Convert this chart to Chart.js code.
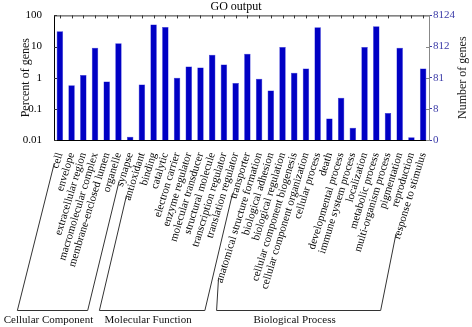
<!DOCTYPE html>
<html>
<head>
<meta charset="utf-8">
<script src="https://cdn.jsdelivr.net/npm/chart.js@4/dist/chart.umd.min.js"></script>
<style>
  html, body { margin: 0; padding: 0; background: #fff; }
  #wrap { width: 472px; height: 327px; }
</style>
</head>
<body>
<div id="wrap"><canvas id="chart"></canvas></div>
<script>
const categories = [
  "cell", "envelope", "extracellular region", "macromolecular complex",
  "membrane-enclosed lumen", "organelle", "synapse",
  "antioxidant", "binding", "catalytic", "electron carrier", "enzyme regulator",
  "molecular transducer", "structural molecule", "transcription regulator",
  "translation regulator", "transporter",
  "anatomical structure formation", "biological adhesion", "biological regulation",
  "cellular component biogenesis", "cellular component organization",
  "cellular process", "death", "developmental process", "immune system process",
  "localization", "metabolic process", "multi-organism process", "pigmentation",
  "reproduction", "response to stimulus"
];
const percentGenes = [
  30.8, 0.575, 1.23, 9.2, 0.75, 12.7, 0.0128,
  0.6, 51.5, 42.4, 0.99, 2.28, 2.11, 5.5, 2.64, 0.67, 5.9,
  0.92, 0.39, 9.7, 1.43, 1.96, 42, 0.049, 0.226, 0.0248, 9.7, 44.5, 0.073, 9.2, 0.0122, 1.96
];
const groupNames = ["Cellular Component", "Molecular Function", "Biological Process"];
const groupSizes = [7, 10, 15];
const percentTicks = [0.01, 0.1, 1, 10, 100];
const percentTickLabels = ["0.01", "0.1", "1", "10", "100"];
const geneTickLabels = ["0", "8", "81", "812", "8124"];

const FONT = '"Liberation Serif", "Times New Roman", serif';
const BLUE_TEXT = "#3b3ba8";
const LABEL_ROT = 73;
const LABEL_SIZE = 11;
const LABEL_PAD = 3;

// box, inward ticks, right title, group brackets
const decorations = {
  id: "decorations",
  afterDraw(chart) {
    const { ctx, chartArea: area, scales: { x, y } } = chart;
    ctx.save();
    ctx.lineWidth = 1;
    ctx.strokeStyle = "#333";
    ctx.beginPath();
    ctx.moveTo(area.left, area.top + 0.5);
    ctx.lineTo(area.right, area.top + 0.5);
    categories.forEach((c, i) => {
      const px = Math.round(x.getPixelForValue(i)) + 0.5;
      ctx.moveTo(px, area.top);
      ctx.lineTo(px, area.top + 3);
    });
    percentTicks.forEach(v => {
      const py = Math.round(y.getPixelForValue(v)) + 0.5;
      ctx.moveTo(area.left, py);
      ctx.lineTo(area.left + 3, py);
    });
    ctx.stroke();
    ctx.strokeStyle = "#888";
    ctx.beginPath();
    percentTicks.forEach(v => {
      const py = Math.round(y.getPixelForValue(v)) + 0.5;
      ctx.moveTo(area.right - 3, py);
      ctx.lineTo(area.right, py);
    });
    ctx.stroke();

    // right axis title, reading bottom to top
    ctx.fillStyle = "#222";
    ctx.font = "12px " + FONT;
    ctx.textAlign = "center";
    ctx.textBaseline = "middle";
    ctx.translate(chart.width - 9, (area.top + area.bottom) / 2);
    ctx.rotate(-Math.PI / 2);
    ctx.fillText("Number of genes", 0, 0);
    ctx.setTransform(1, 0, 0, 1, 0, 0);

    // group brackets under the rotated labels
    const baseY = chart.height - 17;
    const rot = LABEL_ROT * Math.PI / 180;
    const labelTop = area.bottom + LABEL_PAD + 2;
    const foot = i => {
      ctx.font = LABEL_SIZE + "px " + FONT;
      const px = x.getPixelForValue(i);
      const len = ctx.measureText(categories[i]).width + 3;
      return {
        sx: px - Math.cos(rot) * len,
        sy: labelTop + Math.sin(rot) * len,
        fx: px - 0.25 * (baseY - area.bottom)
      };
    };
    ctx.strokeStyle = "#333";
    ctx.fillStyle = "#111";
    let start = 0;
    groupSizes.forEach((n, g) => {
      const a = foot(start), b = foot(start + n - 1);
      ctx.beginPath();
      ctx.moveTo(a.sx, a.sy);
      ctx.lineTo(a.fx, baseY + 0.5);
      ctx.lineTo(b.fx, baseY + 0.5);
      ctx.lineTo(b.sx, b.sy);
      ctx.stroke();
      ctx.font = "11px " + FONT;
      ctx.fillText(groupNames[g], (a.fx + b.fx) / 2 - 4, baseY + 10);
      start += n;
    });
    ctx.restore();
  }
};

new Chart(document.getElementById("chart"), {
  type: "bar",
  data: {
    labels: categories,
    datasets: [{
      label: "Percent of genes",
      data: percentGenes,
      backgroundColor: "#0000c4",
      borderColor: "#2a2ad8",
      borderWidth: 0.5,
      barPercentage: 0.55,
      categoryPercentage: 1
    }]
  },
  options: {
    responsive: true,
    maintainAspectRatio: false,
    animation: false,
    layout: { padding: 0 },
    plugins: {
      legend: { display: false },
      tooltip: { enabled: false },
      title: {
        display: true,
        text: "GO output",
        color: "#000",
        font: { family: FONT, size: 12, weight: "normal" },
        padding: { top: 0, bottom: 1 }
      }
    },
    scales: {
      x: {
        type: "category",
        grid: { display: false },
        border: { color: "#000" },
        ticks: {
          autoSkip: false,
          maxRotation: LABEL_ROT,
          minRotation: LABEL_ROT,
          padding: LABEL_PAD,
          color: "#000",
          font: { family: FONT, size: LABEL_SIZE }
        },
        afterFit: s => { s.height = 187; }
      },
      y: {
        type: "logarithmic",
        position: "left",
        min: 0.01,
        max: 100,
        grid: { display: false },
        border: { color: "#000" },
        afterBuildTicks: s => { s.ticks = percentTicks.map(v => ({ value: v })); },
        ticks: {
          callback: (v, i) => percentTickLabels[i],
          padding: 4,
          color: "#000",
          font: { family: FONT, size: 11 }
        },
        title: {
          display: true,
          text: "Percent of genes",
          color: "#111",
          font: { family: FONT, size: 12 },
          padding: { top: 19, bottom: 0 }
        },
        afterFit: s => { s.width = 54; }
      },
      y2: {
        type: "logarithmic",
        position: "right",
        min: 0.01,
        max: 100,
        grid: { drawOnChartArea: false, drawTicks: true, tickLength: 3, color: BLUE_TEXT },
        border: { color: "#888" },
        afterBuildTicks: s => { s.ticks = percentTicks.map(v => ({ value: v })); },
        ticks: {
          callback: (v, i) => geneTickLabels[i],
          padding: 1,
          color: BLUE_TEXT,
          font: { family: FONT, size: 11 }
        },
        afterFit: s => { s.width = 43; }
      }
    }
  },
  plugins: [decorations]
});
</script>
</body>
</html>
